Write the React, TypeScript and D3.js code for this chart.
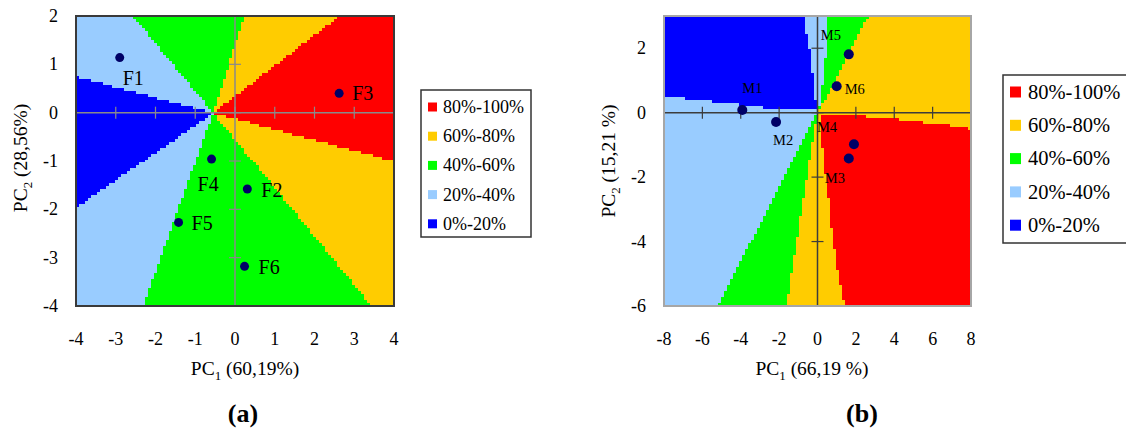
import React, { useEffect, useRef } from 'react';
import * as d3 from 'd3';

const bandLabels = ['80%-100%', '60%-80%', '40%-60%', '20%-40%', '0%-20%'];
const bandColors = ['#ff0000', '#ffcc00', '#00ff00', '#99ccff', '#0000ff'];

// panel (a) - preference sectors around the centre, band = index in bandLabels
const centreA = [-0.55, 0];
const regionsA = [
  { band: 0, pts: [centreA, [4, -1.0], [4, 2], [2.63, 2]] },
  { band: 1, pts: [centreA, [2.63, 2], [0.24, 2]] },
  { band: 2, pts: [centreA, [0.24, 2], [-2.57, 2]] },
  { band: 3, pts: [centreA, [-2.57, 2], [-4, 2], [-4, 0.75]] },
  { band: 4, pts: [centreA, [-4, 0.75], [-4, -1.98]] },
  { band: 3, pts: [centreA, [-4, -1.98], [-4, -4], [-2.31, -4]] },
  { band: 2, pts: [centreA, [-2.31, -4], [3.43, -4]] },
  { band: 1, pts: [centreA, [3.43, -4], [4, -4], [4, -1.0]] },
];
const namesA = ['F1', 'F2', 'F3', 'F4', 'F5', 'F6'];
const pc1A = [-2.9, 0.31, 2.62, -0.59, -1.42, 0.24];
const pc2A = [1.14, -1.58, 0.4, -0.96, -2.27, -3.18];

// panel (b) - painted in order over a light blue background
const regionsB = [
  { band: 1, pts: [[0, 0], [2.63, 3], [8, 3], [8, -6], [-1.6, -6]] },
  { band: 2, pts: [[0, 0], [0.13, 0.39], [0.3, 1.1], [0.39, 1.63], [0.48, 3], [2.63, 3]] },
  { band: 2, pts: [[0, 0], [-1.6, -6], [-5.17, -6]] },
  { band: 0, pts: [[0.08, -0.02], [1.4, -0.05], [2.7, -0.12], [4.5, -0.22], [5.9, -0.32], [7.1, -0.4], [8, -0.5], [8, -6],
    [1.4, -6], [1.34, -5.82], [1.0, -4.79], [0.74, -3.75], [0.56, -2.72], [0.45, -2.2], [0.3, -1.5], [0.2, -0.8], [0.12, -0.2]] },
  { band: 4, pts: [[-8, 3], [-0.7, 3], [-0.6, 2.6], [-0.4, 2.0], [-0.22, 1.2], [-0.1, 0.6], [-0.05, 0.1], [-1.4, 0.08],
    [-3.0, 0.18], [-4.4, 0.29], [-6.1, 0.39], [-7.2, 0.47], [-8, 0.54]] },
];
const namesB = ['M1', 'M2', 'M3', 'M4', 'M5', 'M6'];
const pc1B = [-3.92, -2.16, 1.63, 1.9, 1.63, 1.0];
const pc2B = [0.08, -0.29, -1.42, -0.98, 1.81, 0.82];

const serif = '"Liberation Serif", "Times New Roman", serif';

const panelA = {
  left: 76, right: 394, top: 16, bottom: 306, cols: 106, rows: 97,
  xDomain: [-4, 4], yDomain: [-4, 2],
  xTicks: d3.range(-4, 5, 1), yTicks: d3.range(-4, 3, 1), yLabels: d3.range(-4, 3, 1),
  regions: regionsA, bg: 2, names: namesA, pc1: pc1A, pc2: pc2A,
  labelOff: [[3, 27], [14, 8], [13, 7], [-14, 32], [13, 8], [14, 8]],
  frame: '#3a3a3a', axis: '#8a8a8a', dotR: 4.5, labelSize: 20,
  xTitle: ['PC', '1', ' (60,19%)'], yTitle: ['PC', '2', ' (28,56%)'],
  xTitleX: 245, yTitleX: 27, yTitleY: 158, tag: '(a)', tagX: 243,
  legend: { x: 421, y: 90, w: 110, h: 147, sq: 9, row0: 107, step: 29.2, font: 18, textX: 443 },
};
const panelB = {
  left: 664, right: 971, top: 16, bottom: 306, cols: 102, rows: 97,
  xDomain: [-8, 8], yDomain: [-6, 3],
  xTicks: d3.range(-8, 9, 2), yTicks: d3.range(-6, 3, 2), yLabels: d3.range(-6, 3, 2),
  regions: regionsB, bg: 3, names: namesB, pc1: pc1B, pc2: pc2B,
  labelOff: [[0, -17], [-3, 23], [-24, 25], [-37, -12], [-28, -14], [8, 8]],
  frame: '#a6a6a6', axis: '#3c3c3c', dotR: 5, labelSize: 14.5,
  xTitle: ['PC', '1', ' (66,19 %)'], yTitle: ['PC', '2', ' (15,21 %)'],
  xTitleX: 812, yTitleX: 615, yTitleY: 161, tag: '(b)', tagX: 862,
  legend: { x: 1003, y: 75, w: 126, h: 168, sq: 11, row0: 92, step: 33.3, font: 20.5, textX: 1028 },
};

function drawPanel(root, p) {
  const g = root.append('g');
  const x = d3.scaleLinear().domain(p.xDomain).range([p.left, p.right]);
  const y = d3.scaleLinear().domain(p.yDomain).range([p.bottom, p.top]);
  const [x0, x1] = p.xDomain;
  const [y0, y1] = p.yDomain;
  const dx = (x1 - x0) / p.cols;
  const dy = (y1 - y0) / p.rows;

  // rasterise the regions on a coarse grid (gives the stepped edges), merge runs per row
  const cells = [];
  for (let r = 0; r < p.rows; r++) {
    const yTop = y1 - r * dy;
    const yc = yTop - dy / 2;
    let start = 0;
    let runBand = -1;
    for (let c = 0; c <= p.cols; c++) {
      let band = -1;
      if (c < p.cols) {
        const xc = x0 + (c + 0.5) * dx;
        band = p.bg;
        p.regions.forEach((reg) => { if (d3.polygonContains(reg.pts, [xc, yc])) band = reg.band; });
      }
      if (band !== runBand) {
        if (runBand >= 0) cells.push({ band: runBand, xa: x0 + start * dx, xb: x0 + c * dx, ya: yTop, yb: yTop - dy });
        start = c;
        runBand = band;
      }
    }
  }
  g.selectAll('rect.cell')
    .data(cells)
    .enter()
    .append('rect')
    .attr('x', (d) => Math.round(x(d.xa)))
    .attr('width', (d) => Math.round(x(d.xb)) - Math.round(x(d.xa)))
    .attr('y', (d) => Math.round(y(d.ya)))
    .attr('height', (d) => Math.round(y(d.yb)) - Math.round(y(d.ya)))
    .attr('fill', (d) => bandColors[d.band])
    .attr('shape-rendering', 'crispEdges');

  // axes through the origin with crossing ticks
  g.append('line').attr('x1', x(x0)).attr('x2', x(x1)).attr('y1', y(0)).attr('y2', y(0))
    .attr('stroke', p.axis).attr('stroke-width', 1.5);
  g.append('line').attr('x1', x(0)).attr('x2', x(0)).attr('y1', y(y0)).attr('y2', y(y1))
    .attr('stroke', p.axis).attr('stroke-width', 1.5);
  g.selectAll('line.xt').data(p.xTicks).enter().append('line')
    .attr('x1', (d) => x(d)).attr('x2', (d) => x(d)).attr('y1', y(0) - 6).attr('y2', y(0) + 6)
    .attr('stroke', p.axis).attr('stroke-width', 1.2);
  g.selectAll('line.yt').data(p.yTicks).enter().append('line')
    .attr('y1', (d) => y(d)).attr('y2', (d) => y(d)).attr('x1', x(0) - 6).attr('x2', x(0) + 6)
    .attr('stroke', p.axis).attr('stroke-width', 1.2);

  g.append('rect').attr('x', p.left).attr('y', p.top)
    .attr('width', p.right - p.left).attr('height', p.bottom - p.top)
    .attr('fill', 'none').attr('stroke', p.frame).attr('stroke-width', 2);

  // tick labels on the frame
  g.selectAll('text.xl').data(p.xTicks).enter().append('text')
    .attr('x', (d) => x(d)).attr('y', p.bottom + 39)
    .attr('text-anchor', 'middle').attr('font-family', serif).attr('font-size', 18)
    .text((d) => d);
  g.selectAll('text.yl').data(p.yLabels).enter().append('text')
    .attr('x', p.left - 18).attr('y', (d) => y(d) + 6)
    .attr('text-anchor', 'end').attr('font-family', serif).attr('font-size', 18)
    .text((d) => d);

  // points and names
  g.selectAll('circle.pt').data(p.names).enter().append('circle')
    .attr('cx', (d, i) => x(p.pc1[i])).attr('cy', (d, i) => y(p.pc2[i]))
    .attr('r', p.dotR).attr('fill', '#000066');
  g.selectAll('text.pt').data(p.names).enter().append('text')
    .attr('x', (d, i) => x(p.pc1[i]) + p.labelOff[i][0])
    .attr('y', (d, i) => y(p.pc2[i]) + p.labelOff[i][1])
    .attr('font-family', serif).attr('font-size', p.labelSize).attr('fill', '#000')
    .text((d) => d);

  // axis titles with subscript
  const xt = g.append('text').attr('x', p.xTitleX).attr('y', 375)
    .attr('text-anchor', 'middle').attr('font-family', serif).attr('font-size', 19.5);
  xt.append('tspan').text(p.xTitle[0]);
  xt.append('tspan').attr('dy', 5).attr('font-size', 13).text(p.xTitle[1]);
  xt.append('tspan').attr('dy', -5).text(p.xTitle[2]);

  const yt = g.append('text').attr('transform', `translate(${p.yTitleX},${p.yTitleY}) rotate(-90)`)
    .attr('text-anchor', 'middle').attr('font-family', serif).attr('font-size', 19.5);
  yt.append('tspan').text(p.yTitle[0]);
  yt.append('tspan').attr('dy', 5).attr('font-size', 13).text(p.yTitle[1]);
  yt.append('tspan').attr('dy', -5).text(p.yTitle[2]);

  g.append('text').attr('x', p.tagX).attr('y', 422)
    .attr('text-anchor', 'middle').attr('font-family', serif).attr('font-size', 26).attr('font-weight', 'bold')
    .text(p.tag);

  // legend
  const L = p.legend;
  const lg = g.append('g');
  lg.append('rect').attr('x', L.x).attr('y', L.y).attr('width', L.w).attr('height', L.h)
    .attr('fill', '#fff').attr('stroke', '#333').attr('stroke-width', 1.5);
  lg.selectAll('rect.sw').data(bandLabels).enter().append('rect')
    .attr('x', L.x + 7).attr('y', (d, i) => L.row0 + i * L.step - L.sq / 2)
    .attr('width', L.sq).attr('height', L.sq)
    .attr('fill', (d, i) => bandColors[i]);
  lg.selectAll('text.lt').data(bandLabels).enter().append('text')
    .attr('x', L.textX).attr('y', (d, i) => L.row0 + i * L.step + L.font * 0.33)
    .attr('font-family', serif).attr('font-size', L.font)
    .text((d) => d);
}

const App = () => {
  const svgRef = useRef(null);

  useEffect(() => {
    const svg = d3.select(svgRef.current);
    svg.selectAll('*').remove();
    svg.append('rect').attr('width', 1126).attr('height', 437).attr('fill', 'white');
    drawPanel(svg, panelA);
    drawPanel(svg, panelB);
  }, []);

  return (
    <svg ref={svgRef} width={1126} height={437}
      style={{ position: 'absolute', left: 0, top: 0, display: 'block' }}></svg>
  );
};

export default App;
